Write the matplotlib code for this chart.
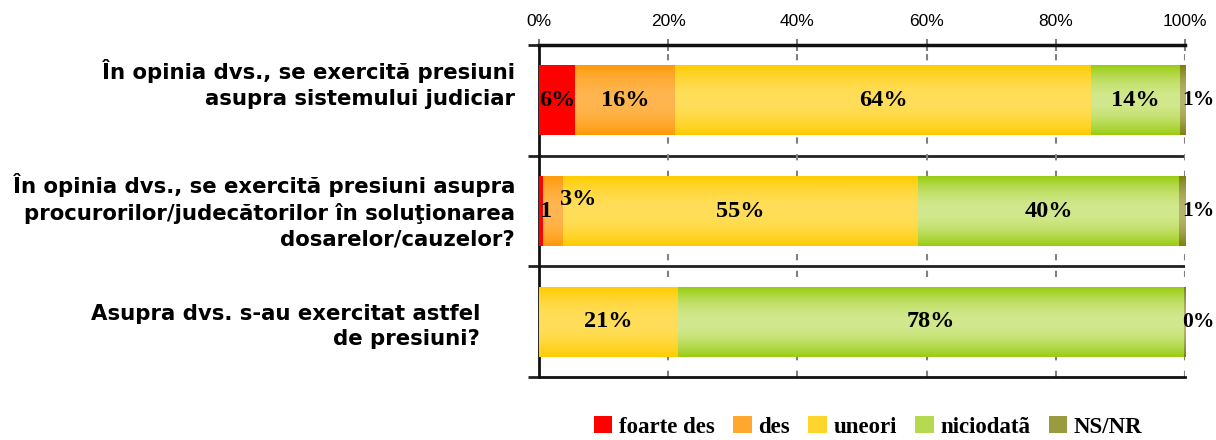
import numpy as np
import matplotlib
matplotlib.use("Agg")
import matplotlib.pyplot as plt
from matplotlib.patches import Patch
from matplotlib.colors import to_rgb

# data
questions = [
    "În opinia dvs., se exercită presiuni\nasupra sistemului judiciar",
    "În opinia dvs., se exercită presiuni asupra\nprocurorilor/judecătorilor în soluţionarea\ndosarelor/cauzelor?",
    "Asupra dvs. s-au exercitat astfel\nde presiuni?",
]
series = ["foarte des", "des", "uneori", "niciodatã", "NS/NR"]
foarte_des = [5.6, 0.6, 0.0]
des = [15.5, 3.1, 0.0]
uneori = [64.3, 55.0, 21.5]
niciodata = [13.8, 40.3, 78.3]
ns_nr = [0.8, 1.0, 0.2]
labels = [
    ["6%", "16%", "64%", "14%", "1%"],
    ["1", "3%", "55%", "40%", "1%"],
    ["", "", "21%", "78%", "0%"],
]
ticks = [0, 20, 40, 60, 80, 100]

# (edge colour, middle colour) of the vertical gradients
grads = [("#FF0000", "#FF0000"), ("#FF9A0A", "#FFB650"), ("#FFCC00", "#FFDE5A"),
         ("#99CC11", "#D2E88E"), ("#7F7F10", "#B5B56C")]

values = np.array([foarte_des, des, uneori, niciodata, ns_nr])

fig = plt.figure(figsize=(12.16, 4.4), dpi=100)
ax = fig.add_axes([0.4433, 0.1432, 0.5312, 0.7545])

y = np.arange(len(questions))
h = 0.63
t = np.linspace(0, 1, 64)
w = np.sin(np.pi * t) ** 0.9

left = np.zeros(len(questions))
for k, name in enumerate(series):
    c0, c1 = np.array(to_rgb(grads[k][0])), np.array(to_rgb(grads[k][1]))
    img = (c0[None, :] * (1 - w[:, None]) + c1[None, :] * w[:, None])[:, None, :]
    bars = ax.barh(y, values[k], left=left, height=h, color=grads[k][0], lw=0, zorder=2)
    for i, r in enumerate(bars):
        if values[k][i] <= 0:
            continue
        ax.imshow(img, extent=[r.get_x(), r.get_x() + r.get_width(),
                               r.get_y() + r.get_height(), r.get_y()],
                  aspect="auto", interpolation="bilinear", zorder=3)
        lab = labels[i][k]
        if not lab:
            continue
        fs = 17.5
        if values[k][i] < 5:
            xt, ha = left[i] + values[k][i] - 0.4, "left"
            if k == len(series) - 1:
                fs = 15.5
        else:
            xt, ha = left[i] + values[k][i] / 2, "center"
        dy = -0.1 if lab == "3%" else 0
        ax.text(xt, y[i] + dy, lab, ha=ha, va="center", fontsize=fs,
                family="Liberation Serif", fontweight="bold", zorder=5, clip_on=False)
    left += values[k]

ax.set_xlim(0, 100)
ax.set_ylim(len(questions) - 0.5, -0.5)

ax.xaxis.tick_top()
ax.set_xticks(ticks)
ax.set_xticklabels([f"{v}%" for v in ticks], family="Liberation Sans", fontsize=12.5)
ax.tick_params(axis="x", direction="inout", length=9, width=1.5, color="#808080", pad=7)
ax.set_yticks(np.arange(len(questions) + 1) - 0.5)
ax.set_yticklabels([])
ax.tick_params(axis="y", direction="out", length=8, width=2, color="#222222")
ax.grid(axis="x", color="#808080", ls=(0, (3, 5)), lw=1.5, zorder=1)
for b in np.arange(1, len(questions)) - 0.5:
    ax.axhline(b, color="#222222", lw=2, zorder=1)

ax.spines["right"].set_visible(False)
ax.spines["top"].set_linewidth(2.5)
ax.spines["bottom"].set_linewidth(2)
ax.spines["left"].set_linewidth(2)
for s in ["top", "bottom", "left"]:
    ax.spines[s].set_color("#111111")

offs = [-0.037, -0.037, -0.091]
dys = [-0.145, 0.0, 0.045]
for i, q in enumerate(questions):
    ax.text(offs[i], y[i] + dys[i], q, transform=ax.get_yaxis_transform(), ha="right",
            va="center", multialignment="right", fontsize=15.3,
            family="DejaVu Sans", fontweight="bold", linespacing=1.35)

handles = [Patch(facecolor=(np.array(to_rgb(a)) + np.array(to_rgb(b))) / 2, lw=0)
           for a, b in grads]
fig.legend(handles, series, loc="center", bbox_to_anchor=(0.714, 0.03), ncol=5,
           frameon=False, handlelength=0.8, handleheight=0.8, handletextpad=0.3,
           columnspacing=0.8, prop={"family": "Liberation Serif", "weight": "bold", "size": 16.5})

fig.savefig("out.png", dpi=100)
